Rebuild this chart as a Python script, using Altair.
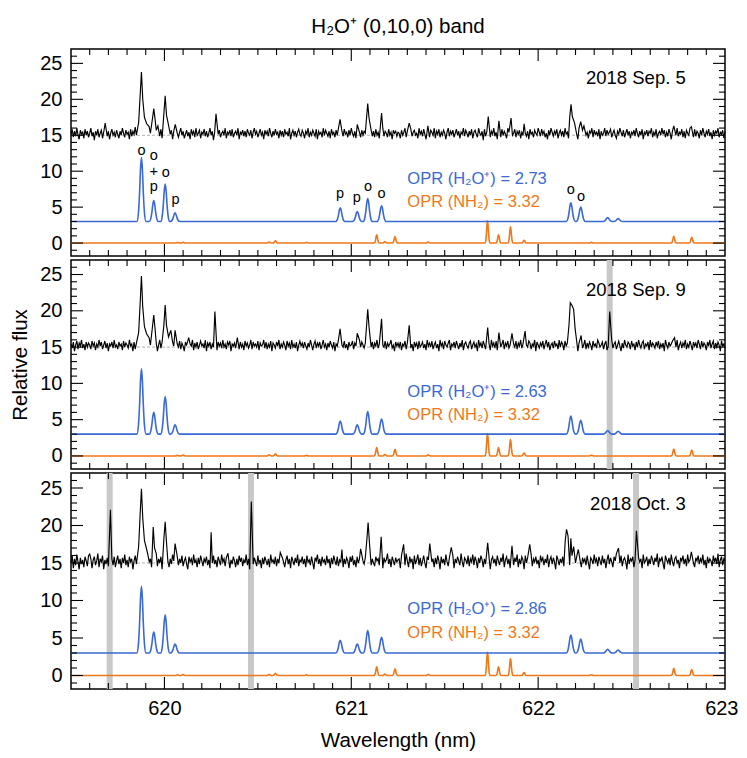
import altair as alt
import numpy as np
import pandas as pd

# ---------------------------------------------------------------- settings
X_MIN, X_MAX = 619.5, 623.0
Y_MIN, Y_MAX = -1.8, 27.0
PANEL_W = 654
PANEL_H = [207, 209, 216]
FONT = "Liberation Sans"
BLUE = "#3a69d4"
ORANGE = "#f07818"

# ---------------------------------------------------------------- data
DATES = ["2018 Sep. 5", "2018 Sep. 9", "2018 Oct. 3"]
OPR_H2O = ["2.73", "2.63", "2.86"]
OPR_NH2 = ["3.32", "3.32", "3.32"]

# H2O+ model (blue), baseline 3
H2O_BASE = 3.0
H2O_CENTERS = [619.877, 619.943, 620.004, 620.057, 620.941, 621.032, 621.088,
               621.162, 622.175, 622.228, 622.372, 622.428]
H2O_TOPS_1 = [11.9, 5.9, 8.2, 4.2, 4.9, 4.4, 6.2, 5.2, 5.6, 5.0, 3.55, 3.4]
H2O_TOPS_2 = [12.0, 6.0, 8.2, 4.3, 4.8, 4.3, 6.1, 5.1, 5.5, 4.9, 3.5, 3.4]
H2O_TOPS_3 = [11.9, 5.8, 8.1, 4.2, 4.7, 4.2, 6.0, 5.1, 5.4, 4.85, 3.5, 3.4]

# NH2 model (orange), baseline 0
NH2_BASE = 0.0
NH2_CENTERS = [620.07, 620.10, 620.561, 620.594, 620.76, 621.136, 621.180,
               621.234, 621.412, 621.729, 621.788, 621.852, 621.925, 622.285,
               622.726, 622.822]
NH2_HEIGHTS = [0.08, 0.12, 0.15, 0.3, 0.08, 1.15, 0.2, 0.9, 0.15, 3.1, 1.15,
               2.25, 0.4, 0.1, 0.95, 0.8]

# observed spectra: continuum at 15 plus noise read along the trace
# (noise in steps of NOISE_UNIT around NOISE_ZERO)
OBS_BASE = 15.0
NOISE_ZERO = 2
NOISE_UNIT = 0.14
NOISE_1 = [
    3, 8, 0, 6, 1, 9, 2, -2, 7, 3, 5, -1, 8, 2, 6, 0, 4, 9, 1, 5,
    -3, 6, 2, 8, 0, 4, 7, -1, 5, 3, 9, 1, 6, -2, 4, 8, 2, 5, 0, 7,
    3, -1, 6, 2, 9, 4, 0, 7, 3, 5, -2, 8, 1, 6, 3, 10, 2, 4, -1, 6,
    2, 7, 0, 5, 8, 1, 6, -3, 4, 9, 2, 5, 0, 7, 3, 6, 1, 8, -1, 4,
    6, 2, 9, 0, 5, 3, 7, -2, 6, 1, 8, 4, 0, 5, 9, 2, 6, -1, 3, 7,
    1, 5, -2, 8, 3, 6, 0, 9, 2, 4, 7, -1, 5, 3, 8, 1, 6, 0, 4, 9,
    2, 6, -3, 5, 1, 8, 3, 7, 0, 4, 6, 2, 9, -1, 5, 3, 7, 1, 8, 0,
    4, 6, 2, 9, -2, 5, 3, 7, 1, 6, 0, 8, 4, 2, 7, -1, 5, 9, 3, 6,
    0, 4, 8, 2, 5, -2, 7, 3, 6, 1, 9, 4, 0, 6, 2, 8, 3, 5, -1, 7,
    2, 6, 0, 8, 3, 5, 1, 9, -2, 4, 7, 2, 6, 0, 5, 8, 3, 1, 7, 4,
    -1, 6, 3, 9, 0, 5, 2, 7, 4, 1, 8, -2, 6, 3, 5, 0, 9, 2, 7, 4,
    1, 6, -1, 8, 3, 5, 0, 7, 2, 9, 4, -2, 6, 1, 8, 3, 5, 0, 7, 2,
    9, 4, 1, 6, -1, 8, 3, 5, 0, 7, 2, 6, 4, 9, -2, 5, 3, 7, 1, 6,
    0, 8, 2, 5, -1, 7, 3, 9, 1, 6, 4, 0, 8, 2, 5, -2, 7, 4, 6, 1,
    5,
    4, -1, 7, 2, 5, 9, 0, 6, 3, -2, 8, 1, 5, 7, 2, 4, -1, 9, 3, 6,
    1, 8, 3, -2, 6, 4, 0, 7, 5, 2, 9, -1, 6, 3, 8, 0, 5, 2, 7, 4,
    -2, 5, 9, 1, 6, 3, 7, 0, 4, 8, 2, 6, -1, 5, 3, 9, 1, 7, 4, 0,
    6, 2, 8, -1, 5, 7, 3, 0, 9, 4, 2, 6, -3, 8, 1, 5, 3, 7, 0, 6,
    3, 9, 1, 5, -2, 7, 4, 0, 8, 2, 6, 3, -1, 9, 5, 1, 7, 2, 4, 8,
    0, 6, 3, 7, -1, 5, 2, 9, 4, 1, 6, -2, 8, 3, 5, 0, 7, 4, 2, 9,
    5, 1, 8, 3, 6, 0, 4, -2, 7, 2, 9, 5, 1, 6, 3, 8, -1, 4, 7, 2,
    6, 0, 9, 3, 5, -1, 8, 2, 4, 7, 1, 6, 3, -2, 9, 5, 0, 7, 3, 8,
    2, 5, -1, 6, 4, 9, 0, 7, 3, 5, 1, 8, -2, 6, 2, 4, 9, 1, 7, 3,
    5, 8, 0, 4, 7, 2, -1, 6, 3, 9, 5, 1, 7, 0, 4, 8, 2, 6, -1, 5,
    3, 7, 1, 9, 4, 0, 6, 2, 8, -2, 5, 3, 7, 1, 6, 4, 9, 0, 5, 2,
    8, -1, 4, 6, 2, 9, 3, 7, 0, 5, 1, 8, 4, -2, 6, 3, 7, 2, 9, 1,
    5, 3, 8, 0, 6, -1, 7, 4, 2, 9, 3, 5, 0, 8, 1, 6, 4, -1, 7, 2,
    9, 4, 0, 6, 3, 8, 1, 5, -2, 7, 2, 6, 4, 9, 0, 5, 3, 7, -1, 6]
NOISE_2 = [
    5, 1, 7, -2, 4, 8, 0, 6, 3, 9, 1, 5, -1, 7, 2, 6, 4, 0, 8, 3,
    6, -1, 5, 2, 9, 3, 7, 0, 4, 8, 1, 6, -2, 5, 3, 7, 1, 9, 2, 4,
    0, 7, 3, 5, -1, 8, 2, 6, 4, 1, 9, 3, 5, -2, 7, 0, 6, 2, 8, 4,
    1, 5, 9, 0, 6, 3, -1, 7, 4, 2, 8, 5, 0, 6, -2, 4, 9, 1, 7, 3,
    5, 0, 8, 2, 6, -1, 4, 7, 3, 9, 1, 5, 2, 8, 0, 6, 3, -2, 7, 4,
    8, 1, 5, 3, 9, -1, 6, 2, 7, 0, 4, 8, 3, 5, 1, 9, -2, 6, 3, 7,
    0, 5, 2, 8, 4, -1, 7, 3, 6, 1, 9, 2, 5, 0, 7, 4, 8, -2, 5, 3,
    6, 1, 9, 4, 0, 7, 2, 5, -1, 8, 3, 6, 1, 4, 9, 0, 7, 3, 5, 2,
    8, -1, 6, 3, 4, 9, 1, 7, 0, 5, 2, 8, -2, 6, 4, 1, 7, 3, 9, 0,
    5, 2, 7, 4, -1, 8, 3, 6, 0, 9, 2, 5, 1, 7, -2, 4, 8, 3, 6, 1,
    7, 3, 0, 6, 2, 9, 4, -1, 5, 8, 1, 6, 3, 7, 0, 4, 9, 2, 5, -1,
    6, 2, 8, 4, 1, 7, -2, 5, 3, 9, 0, 6, 4, 2, 8, 1, 5, -1, 7, 3,
    4, 8, 0, 6, 3, 5, -1, 9, 2, 7, 4, 1, 6, 3, 8, -2, 5, 2, 7, 0,
    6, 3, 9, 1, 5, -1, 7, 4, 2, 8, 0, 6, 3, 5, 9, 1, 4, -2, 7, 3,
    6,
    2, 7, -1, 5, 3, 8, 0, 6, 4, 9, 1, 5, -2, 7, 3, 6, 0, 8, 2, 4,
    7, 1, 5, -1, 9, 3, 6, 2, 8, 0, 4, 7, 1, 5, -2, 9, 3, 6, 0, 8,
    4, 2, 6, 9, -1, 5, 3, 7, 1, 8, 4, 0, 6, 2, 9, -1, 5, 7, 3, 1,
    6, 8, 0, 4, 7, 2, 5, -2, 9, 3, 6, 1, 8, 4, 0, 7, 2, 5, -1, 9,
    3, 6, 1, 8, -1, 4, 7, 2, 5, 9, 0, 6, 3, 8, 1, 4, -2, 7, 5, 2,
    8, 0, 6, 3, 9, 1, 5, 7, -1, 4, 2, 8, 6, 0, 5, 3, 9, -2, 7, 4,
    1, 6, 3, 8, 0, 5, 9, 2, 7, -1, 4, 6, 1, 8, 3, 5, 0, 9, 2, 7,
    5, -1, 8, 3, 6, 1, 9, 4, 0, 7, 2, 5, 8, -2, 6, 3, 7, 1, 4, 9,
    0, 6, 2, 7, 4, -1, 8, 3, 5, 1, 9, 6, 2, 4, 7, 0, 5, 8, -1, 3,
    6, 2, 9, 1, 5, 7, 0, 4, 8, 3, -2, 6, 1, 9, 4, 2, 7, 5, 0, 8,
    3, 5, -1, 7, 2, 9, 4, 1, 6, 8, 0, 5, 3, 7, -1, 9, 2, 6, 4, 1,
    7, 3, 8, 0, 5, 2, 6, -2, 9, 4, 1, 7, 3, 5, 8, 0, 6, 2, 9, -1,
    4, 7, 1, 6, 3, 9, 0, 5, 2, 8, 4, -1, 7, 3, 6, 1, 9, 5, 0, 8,
    2, 6, 4, -1, 7, 3, 9, 1, 5, 8, 0, 6, 2, 7, 4, -2, 8, 3, 5, 1]
NOISE_3 = [
    2, 9, -3, 6, 0, 10, 3, -4, 7, 1, 5, -2, 8, 4, -1, 9, 2, 6, -3, 5,
    8, 0, 4, 11, -2, 6, 3, 9, -4, 5, 1, 7, -1, 10, 3, 6, 0, 8, -2, 4,
    9, 1, 6, -3, 7, 2, 10, 0, 5, -2, 8, 3, 6, -4, 4, 9, 1, 7, -1, 5,
    10, 2, -3, 7, 4, 0, 9, 3, 6, -2, 8, 1, 5, 11, -1, 6, 2, 8, -4, 4,
    7, 0, 9, 3, -2, 6, 1, 10, 4, -3, 5, 8, 0, 6, 2, 9, -1, 4, 7, 1,
    -4, 8, 3, 6, 0, 10, 2, 5, -2, 7, 1, 9, 4, -1, 6, 3, 8, 0, 5, -3,
    7, 2, 9, 1, 5, -2, 8, 4, 0, 10, 3, 6, -1, 7, 2, 9, -3, 5, 1, 8,
    4, -2, 6, 0, 9, 3, 7, -1, 5, 2, 10, 0, 6, -4, 4, 8, 1, 7, 3, -1,
    9, 2, 5, -3, 7, 1, 8, 4, 0, 6, -2, 10, 3, 5, 1, 8, -1, 6, 2, 9,
    0, 7, 3, -2, 5, 9, 1, 6, -3, 8, 4, 0, 7, 2, 10, -1, 5, 3, 8, 1,
    6, -2, 9, 3, 5, 0, 8, 2, -4, 7, 4, 10, 1, 6, -1, 8, 3, 5, 0, 9,
    2, 6, -3, 7, 1, 9, 4, 0, 8, -1, 5, 3, 10, -2, 6, 1, 7, 4, -3, 8,
    3, 9, 0, 5, -2, 8, 2, 6, -1, 10, 4, 1, 7, -4, 5, 3, 9, 0, 6, 2,
    -1, 8, 4, 6, 0, 9, 2, -3, 7, 3, 5, 11, 1, 6, -2, 8, 4, 0, 7, 3,
    5,
    6, -3, 9, 2, 7, 0, 11, 4, -2, 8, 3, 6, -4, 9, 1, 5, 10, 0, 7, -1,
    4, 9, 2, -3, 8, 5, 0, 10, 3, 6, -2, 7, 1, 9, 4, -4, 8, 2, 6, 0,
    10, 3, -1, 7, 5, 1, 9, -3, 6, 2, 8, 4, 0, 11, 3, -2, 7, 5, 1, 9,
    -1, 6, 3, 10, 0, 8, 4, -3, 7, 2, 9, 5, -2, 6, 1, 10, 3, 7, -4, 5,
    8, 2, 6, -1, 9, 4, 0, 7, 3, 11, -2, 5, 8, 1, 6, -3, 9, 4, 0, 7,
    3, 10, -2, 6, 1, 8, 5, -4, 9, 2, 7, 0, 4, 10, -1, 6, 3, 8, 1, 5,
    -3, 9, 4, 7, 0, 6, 2, 10, -2, 5, 8, 1, 7, 3, -4, 9, 5, 0, 6, 2,
    8, -1, 5, 10, 3, 7, 0, 4, 9, -3, 6, 2, 8, 1, 11, 4, -2, 7, 3, 6,
    0, 9, 2, -4, 7, 5, 1, 10, 3, 6, -1, 8, 4, 0, 9, 2, 6, -3, 5, 10,
    1, 7, 3, -2, 8, 4, 11, 0, 6, 2, 9, -1, 5, 7, 3, -4, 10, 1, 6, 4,
    8, -2, 5, 9, 0, 7, 3, 6, -3, 10, 2, 4, 8, -1, 6, 1, 9, 5, 0, 7,
    3, 11, -2, 6, 4, 8, 1, -4, 9, 5, 2, 7, 0, 10, 3, -1, 6, 8, 2, 5,
    -3, 7, 4, 9, 1, 6, -1, 10, 3, 5, 0, 8, 2, -2, 7, 4, 9, 1, 6, 3,
    10, 0, 5, -3, 8, 2, 6, 4, -1, 9, 3, 7, 1, 11, -2, 5, 8, 0, 6, 4]

# emission-line points of the observed spectra (wavelength, flux)
PEAKS_1_X = [619.683, 619.862, 619.870, 619.877, 619.884, 619.893, 619.905,
             619.918, 619.937, 619.943, 619.950, 619.965, 619.997, 620.004,
             620.011, 620.022, 620.058, 620.276, 620.940, 621.032, 621.082,
             621.088, 621.095, 621.162, 621.310, 621.410, 621.733, 621.790,
             621.855, 621.925, 622.169, 622.176, 622.183, 622.195, 622.228,
             622.245, 622.726, 622.820]
PEAKS_1_Y = [16.7, 16.8, 20.5, 23.8, 20.0, 17.5, 16.6,
             16.2, 17.5, 18.7, 17.2, 16.3, 18.0, 20.5,
             17.8, 16.4, 16.5, 18.0, 17.2, 16.5, 17.5,
             19.4, 17.4, 18.1, 16.7, 16.3, 17.6, 17.0,
             17.4, 16.6, 17.5, 19.3, 17.6, 16.7, 16.9,
             16.3, 16.3, 16.2]
PEAKS_2_X = [619.862, 619.870, 619.877, 619.884, 619.893, 619.905, 619.918,
             619.936, 619.943, 619.950, 619.997, 620.004, 620.011, 620.022,
             620.034, 620.057, 620.130, 620.270, 620.390, 620.940, 621.032,
             621.082, 621.088, 621.095, 621.162, 621.310, 621.730, 621.790,
             621.860, 621.930, 622.165, 622.172, 622.180, 622.190, 622.198,
             622.230, 622.383, 622.730]
PEAKS_2_Y = [17.0, 21.0, 24.8, 20.5, 17.8, 16.8, 16.3,
             17.8, 19.4, 17.5, 18.0, 20.8, 18.0, 16.4,
             17.3, 17.3, 16.3, 19.9, 16.3, 17.5, 16.9,
             18.0, 20.2, 17.8, 18.9, 18.0, 17.7, 17.0,
             16.9, 17.2, 18.0, 21.1, 20.8, 20.2, 17.5,
             16.6, 19.9, 16.3]
PEAKS_3_X = [619.600, 619.711, 619.862, 619.870, 619.877, 619.884, 619.893,
             619.905, 619.940, 619.947, 619.997, 620.004, 620.011, 620.057,
             620.250, 620.340, 620.465, 620.620, 620.950, 621.050, 621.083,
             621.090, 621.097, 621.160, 621.280, 621.420, 621.535, 621.730,
             621.860, 621.955, 622.145, 622.152, 622.160, 622.175, 622.190,
             622.215, 622.430, 622.526, 622.820]
PEAKS_3_Y = [16.2, 22.1, 17.2, 21.5, 24.9, 21.0, 18.0,
             16.8, 19.8, 17.0, 18.2, 20.5, 17.8, 17.6,
             19.1, 16.3, 23.2, 16.4, 16.8, 16.9, 18.0,
             20.4, 17.8, 18.5, 17.5, 17.6, 17.1, 17.7,
             17.3, 17.5, 18.0, 19.5, 18.6, 18.3, 17.2,
             16.8, 17.0, 19.3, 16.5]

# masked (grey) wavelength bands per panel
BANDS_1 = []
BANDS_2 = [622.383]
BANDS_3 = [619.707, 620.463, 622.524]

# line identifications of the first panel ("|" separates stacked lines)
MARK_TEXT = ["o", "o|+|p", "o", "p", "p", "p", "o", "o", "o", "o"]
MARK_X = [619.877, 619.943, 620.007, 620.060, 620.940,
          621.030, 621.090, 621.162, 622.175, 622.230]
MARK_Y = [12.26, 11.5, 9.25, 5.45, 6.3, 5.7, 7.3, 6.3, 6.8, 5.9]

# axis ticks
X_LABELS = [620, 621, 622, 623]
X_MAJOR = [620, 621, 622]
X_MINOR = [round(619.5 + 0.1 * i, 1) for i in range(1, 35)
           if abs(619.5 + 0.1 * i - round(619.5 + 0.1 * i)) > 1e-6]
Y_MAJOR = [0, 5, 10, 15, 20, 25]
Y_MINOR = [v for v in range(-1, 27) if v % 5 != 0]

# line-profile shape used to draw model lines (style)
PROFILE_DX = [0.005, 0.010, 0.016, 0.024]
PROFILE_F = [0.82, 0.45, 0.14, 0.0]
MAJOR_LEN, MINOR_LEN = 12, 6


# ---------------------------------------------------------------- helpers
def model_frame(centers, heights, base, scale):
    xs, ys = [X_MIN, X_MAX], [base, base]
    for c, h in zip(centers, heights):
        xs.append(c)
        ys.append(base + h)
        for dx, f in zip(PROFILE_DX, PROFILE_F):
            xs += [c - dx * scale, c + dx * scale]
            ys += [base + h * f, base + h * f]
    return pd.DataFrame({"x": xs, "y": ys}).sort_values("x")


def observed_frame(noise, px, py):
    grid = np.linspace(X_MIN, X_MAX, len(noise))
    xs, ys = [], []
    for g, n in zip(grid, noise):
        if min(abs(g - p) for p in px) > 0.006:
            xs.append(g)
            ys.append(OBS_BASE + (n - NOISE_ZERO) * NOISE_UNIT)
    xs += list(px)
    ys += list(py)
    return pd.DataFrame({"x": xs, "y": ys}).sort_values("x")


xscale = alt.Scale(domain=[X_MIN, X_MAX], nice=False, zero=False)
yscale = alt.Scale(domain=[Y_MIN, Y_MAX], nice=False, zero=False)


def panel(i, noise, px, py, tops, bands):
    h = PANEL_H[i]
    if i == 2:
        xaxis = alt.Axis(values=X_LABELS, format="d", title="Wavelength (nm)",
                         labelPadding=9, titlePadding=12, labelFlush=True,
                         labelFlushOffset=13)
    else:
        xaxis = None
    if i == 1:
        yaxis = alt.Axis(values=Y_MAJOR, title="Relative flux",
                         labelPadding=9, titlePadding=9)
    else:
        yaxis = alt.Axis(values=Y_MAJOR, title=None, labelPadding=9)
    X = alt.X("x:Q", scale=xscale, axis=xaxis)
    Y = alt.Y("y:Q", scale=yscale, axis=yaxis)

    layers = []
    if bands:
        bdf = pd.DataFrame({"x": [b - 0.016 for b in bands],
                            "x2": [b + 0.016 for b in bands]})
        layers.append(alt.Chart(bdf).mark_rect(color="#c8c8c8").encode(
            x=X, x2="x2:Q", y=alt.value(0), y2=alt.value(h)))

    layers.append(alt.Chart(pd.DataFrame({"y": [OBS_BASE]})).mark_rule(
        color="#9a9a9a", strokeDash=[3, 2], strokeWidth=0.8).encode(y=Y))

    nh2 = model_frame(NH2_CENTERS, NH2_HEIGHTS, NH2_BASE, 0.55)
    layers.append(alt.Chart(nh2).mark_line(
        color=ORANGE, strokeWidth=1.6, interpolate="monotone").encode(x=X, y=Y))

    h2o = model_frame(H2O_CENTERS, [t - H2O_BASE for t in tops], H2O_BASE, 1.0)
    layers.append(alt.Chart(h2o).mark_line(
        color=BLUE, strokeWidth=1.6, interpolate="monotone").encode(x=X, y=Y))

    obs = observed_frame(noise, px, py)
    layers.append(alt.Chart(obs).mark_line(
        color="black", strokeWidth=1.15).encode(x=X, y=Y))

    # inward ticks on all four sides
    for vals, ln in ((X_MAJOR, MAJOR_LEN), (X_MINOR, MINOR_LEN)):
        tdf = pd.DataFrame({"x": vals})
        layers.append(alt.Chart(tdf).mark_rule(color="black", strokeWidth=1.1).encode(
            x=X, y=alt.value(0), y2=alt.value(ln)))
        layers.append(alt.Chart(tdf).mark_rule(color="black", strokeWidth=1.1).encode(
            x=X, y=alt.value(h), y2=alt.value(h - ln)))
    for vals, ln in ((Y_MAJOR, MAJOR_LEN), (Y_MINOR, MINOR_LEN)):
        tdf = pd.DataFrame({"y": vals})
        layers.append(alt.Chart(tdf).mark_rule(color="black", strokeWidth=1.1).encode(
            y=Y, x=alt.value(0), x2=alt.value(ln)))
        layers.append(alt.Chart(tdf).mark_rule(color="black", strokeWidth=1.1).encode(
            y=Y, x=alt.value(PANEL_W), x2=alt.value(PANEL_W - ln)))

    # texts
    ddf = pd.DataFrame({"x": [622.79], "y": [22.1], "t": [DATES[i]]})
    layers.append(alt.Chart(ddf).mark_text(
        align="right", baseline="alphabetic", font=FONT, fontSize=18.5,
        color="black").encode(x=X, y=Y, text="t:N"))
    odf = pd.DataFrame({"x": [621.30], "y": [8.15],
                        "t": ["OPR (H\u2082O\u207a) = " + OPR_H2O[i]]})
    layers.append(alt.Chart(odf).mark_text(
        align="left", baseline="alphabetic", font=FONT, fontSize=16.5,
        color=BLUE).encode(x=X, y=Y, text="t:N"))
    ndf = pd.DataFrame({"x": [621.30], "y": [4.95],
                        "t": ["OPR (NH\u2082) = " + OPR_NH2[i]]})
    layers.append(alt.Chart(ndf).mark_text(
        align="left", baseline="alphabetic", font=FONT, fontSize=16.5,
        color=ORANGE).encode(x=X, y=Y, text="t:N"))
    if i == 0:
        mdf = pd.DataFrame({"x": MARK_X, "y": MARK_Y, "t": MARK_TEXT})
        layers.append(alt.Chart(mdf).mark_text(
            align="center", baseline="alphabetic", font=FONT, fontSize=14.5,
            lineBreak="|", lineHeight=15.5,
            color="black").encode(x=X, y=Y, text="t:N"))

    props = dict(width=PANEL_W, height=h)
    if i == 0:
        props["title"] = alt.TitleParams(
            "H\u2082O\u207a (0,10,0) band", font=FONT, fontSize=20.5,
            fontWeight="normal", color="black", anchor="middle",
            frame="group", offset=10.5)
    return alt.layer(*layers).properties(**props)


p1 = panel(0, NOISE_1, PEAKS_1_X, PEAKS_1_Y, H2O_TOPS_1, BANDS_1)
p2 = panel(1, NOISE_2, PEAKS_2_X, PEAKS_2_Y, H2O_TOPS_2, BANDS_2)
p3 = panel(2, NOISE_3, PEAKS_3_X, PEAKS_3_Y, H2O_TOPS_3, BANDS_3)

chart = alt.vconcat(p1, p2, p3, spacing=0).properties(
    padding={"left": 2, "top": 8, "right": 0, "bottom": 0}
).configure_view(
    stroke="black", strokeWidth=1.5
).configure_axis(
    grid=False, ticks=False, domain=False,
    labelFont=FONT, labelFontSize=20, labelColor="black",
    titleFont=FONT, titleFontSize=20.5, titleFontWeight="normal",
    titleColor="black"
)

chart.save("out.html", embed_options={"renderer": "svg", "actions": False})
